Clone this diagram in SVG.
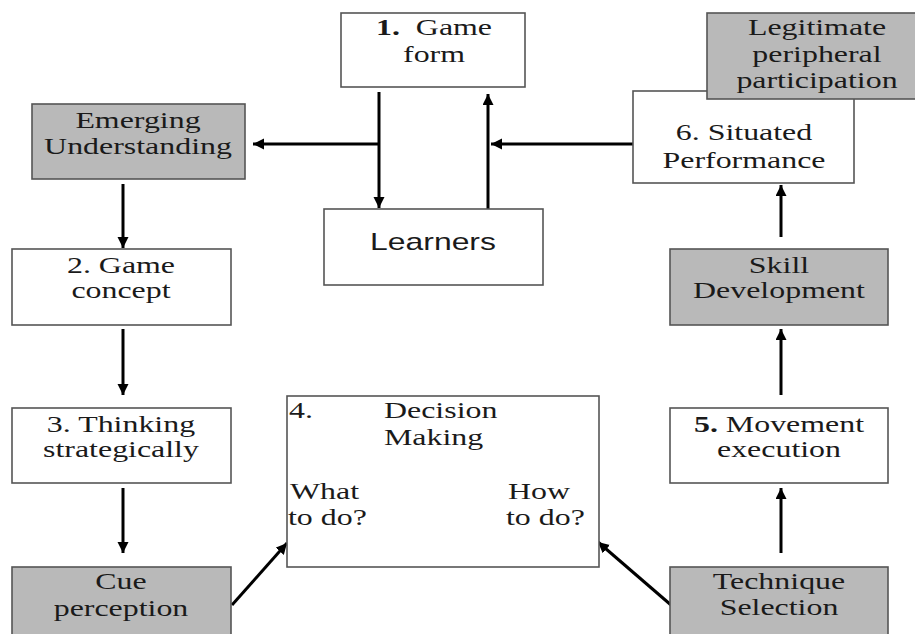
<svg xmlns="http://www.w3.org/2000/svg" width="915" height="634" viewBox="0 0 915 634">
<defs>
<marker id="ah" markerUnits="userSpaceOnUse" markerWidth="14" markerHeight="12" refX="11" refY="5.5" orient="auto-start-reverse">
<path d="M0,0 L11,5.5 L0,11 Z" fill="#000"/>
</marker>
<style>
.box{fill:#fff;stroke:#555;stroke-width:1.6}
.gray{fill:#b9b9b9;stroke:#555;stroke-width:1.6}
.t{font-family:"Liberation Serif","Times New Roman",serif;font-size:24px;fill:#1a1a1a;text-anchor:middle}
.l{text-anchor:start}
.s{font-family:"Liberation Sans",Arial,sans-serif}
.b{font-weight:bold}
.c{stroke:#000;stroke-width:3;fill:none}
.ca{marker-end:url(#ah)}
</style>
</defs>
<rect width="915" height="634" fill="#fff"/>
<g id="connectors">
<line class="c ca" x1="379" y1="92" x2="379" y2="208"/>
<line class="c ca" x1="379" y1="144" x2="253" y2="144"/>
<line class="c ca" x1="488" y1="209" x2="488" y2="94"/>
<line class="c ca" x1="633" y1="144" x2="491" y2="144"/>
<line class="c ca" x1="123" y1="184" x2="123" y2="248"/>
<line class="c ca" x1="123" y1="329" x2="123" y2="395"/>
<line class="c ca" x1="123" y1="488" x2="123" y2="553"/>
<line class="c ca" x1="232" y1="605" x2="287" y2="543"/>
<line class="c ca" x1="671" y1="605" x2="598" y2="542"/>
<line class="c ca" x1="781" y1="553" x2="781" y2="488"/>
<line class="c ca" x1="781" y1="395" x2="781" y2="329"/>
<line class="c ca" x1="781" y1="237" x2="781" y2="185"/>
<line class="c" x1="347" y1="554" x2="521" y2="554" marker-start="url(#ah)" marker-end="url(#ah)"/>
</g>
<g id="game-form">
<rect class="box" x="341" y="13" width="184" height="74"/>
<text class="t" transform="translate(434,35) scale(1.33,1)"><tspan class="b">1.</tspan>&#160; Game</text>
<text class="t" transform="translate(434,62) scale(1.33,1)">form</text>
</g>
<g id="situated-performance">
<rect class="box" x="633" y="91" width="221" height="92"/>
<text class="t" transform="translate(744,140) scale(1.33,1)">6. Situated</text>
<text class="t" transform="translate(744,168) scale(1.33,1)">Performance</text>
</g>
<g id="legitimate">
<rect class="gray" x="707" y="13" width="220" height="86"/>
<text class="t" transform="translate(817,35) scale(1.33,1)">Legitimate</text>
<text class="t" transform="translate(817,62) scale(1.33,1)">peripheral</text>
<text class="t" transform="translate(817,88) scale(1.33,1)">participation</text>
</g>
<g id="emerging-understanding">
<rect class="gray" x="32" y="104" width="213" height="75"/>
<text class="t" transform="translate(138,128) scale(1.33,1)">Emerging</text>
<text class="t" transform="translate(138,154) scale(1.33,1)">Understanding</text>
</g>
<g id="learners">
<rect class="box" x="324" y="209" width="219" height="76"/>
<text class="t s" transform="translate(433,250) scale(1.33,1)">Learners</text>
</g>
<g id="game-concept">
<rect class="box" x="12" y="249" width="219" height="76"/>
<text class="t" transform="translate(121,273) scale(1.33,1)">2. Game</text>
<text class="t" transform="translate(121,298) scale(1.33,1)">concept</text>
</g>
<g id="thinking-strategically">
<rect class="box" x="12" y="408" width="219" height="75"/>
<text class="t" transform="translate(121,432) scale(1.33,1)">3. Thinking</text>
<text class="t" transform="translate(121,457) scale(1.33,1)">strategically</text>
</g>
<g id="cue-perception">
<rect class="gray" x="12" y="567" width="219" height="80"/>
<text class="t" transform="translate(121,589) scale(1.33,1)">Cue</text>
<text class="t" transform="translate(121,616) scale(1.33,1)">perception</text>
</g>
<g id="decision-making">
<rect class="box" x="287" y="396" width="312" height="171"/>
<text class="t l" transform="translate(289,418) scale(1.33,1)">4.</text>
<text class="t l" transform="translate(384,418) scale(1.33,1)">Decision</text>
<text class="t l" transform="translate(384,445) scale(1.33,1)">Making</text>
<text class="t l" transform="translate(290,499) scale(1.33,1)">What</text>
<text class="t l" transform="translate(288,525) scale(1.33,1)">to do?</text>
<text class="t l" transform="translate(508,499) scale(1.33,1)">How</text>
<text class="t l" transform="translate(506,525) scale(1.33,1)">to do?</text>
</g>
<g id="skill-development">
<rect class="gray" x="670" y="249" width="218" height="76"/>
<text class="t" transform="translate(779,273) scale(1.33,1)">Skill</text>
<text class="t" transform="translate(779,298) scale(1.33,1)">Development</text>
</g>
<g id="movement-execution">
<rect class="box" x="670" y="408" width="218" height="75"/>
<text class="t" transform="translate(779,432) scale(1.33,1)"><tspan class="b">5.</tspan> Movement</text>
<text class="t" transform="translate(779,457) scale(1.33,1)">execution</text>
</g>
<g id="technique-selection">
<rect class="gray" x="670" y="567" width="218" height="80"/>
<text class="t" transform="translate(779,589) scale(1.33,1)">Technique</text>
<text class="t" transform="translate(779,615) scale(1.33,1)">Selection</text>
</g>
</svg>
